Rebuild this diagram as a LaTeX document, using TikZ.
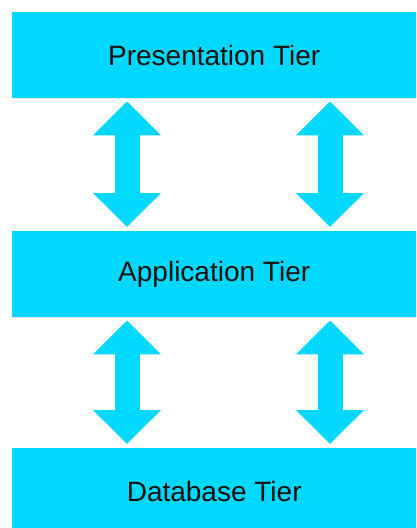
\documentclass[tikz,border=0pt]{standalone}
\usepackage{fontspec}
\setmainfont{Liberation Sans}
\usetikzlibrary{arrows.meta,shadows}
\definecolor{tiercyan}{RGB}{0,216,255}
\definecolor{tiertext}{RGB}{20,16,10}
\tikzset{
  tier/.style={fill=tiercyan, draw=none, minimum width=404pt, minimum height=86pt,
    inner sep=0pt, anchor=north west, text=tiertext,
    font=\fontsize{28}{34}\selectfont,
    drop shadow={opacity=0.18, shadow xshift=0.8pt, shadow yshift=-1.2pt}},
  dblarrow/.style={draw=tiercyan, line width=25pt,
    {Triangle[width=66pt,length=34pt]}-{Triangle[width=66pt,length=34pt]},
    shorten <=3pt, shorten >=4pt}
}
\begin{document}
\begin{tikzpicture}[x=1pt,y=1pt]
\useasboundingbox (0,0) rectangle (416,-528);
\begin{scope}
\clip (0,0) rectangle (416,-528);
\node[tier] (top) at (12,-12) {Presentation Tier};
\node[tier] (mid) at (12,-231) {Application Tier};
\node[tier, minimum height=86pt] (bot) at (12,-448) {\raisebox{-2pt}{Database Tier}};
\draw[dblarrow] ([xshift=115pt]top.south west) -- ([xshift=115pt]mid.north west);
\draw[dblarrow] ([xshift=318pt]top.south west) -- ([xshift=318pt]mid.north west);
\draw[dblarrow] ([xshift=115pt]mid.south west) -- ([xshift=115pt]bot.north west);
\draw[dblarrow] ([xshift=318pt]mid.south west) -- ([xshift=318pt]bot.north west);
\end{scope}
\end{tikzpicture}
\end{document}
